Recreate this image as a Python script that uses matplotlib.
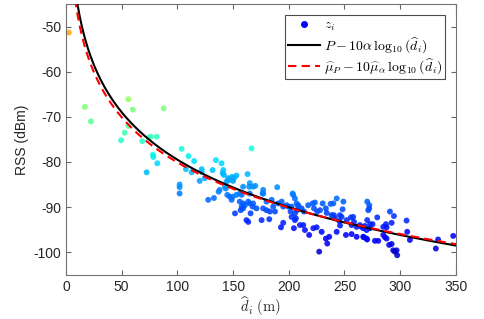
import numpy as np
import matplotlib
matplotlib.use("Agg")
import matplotlib.pyplot as plt
from matplotlib.lines import Line2D

plt.rcParams["font.family"] = ["Liberation Sans", "DejaVu Sans"]
plt.rcParams["mathtext.fontset"] = "cm"
plt.rcParams["axes.unicode_minus"] = False

# measured points: estimated distance (m) and RSS (dBm)
d_hat = [2.5, 17, 22.4, 56, 60, 87.7, 56, 52.7, 49.4, 68.5, 74.5, 76, 81.4,
         78, 78.5, 82, 72.4, 103.8, 110, 115, 102, 102, 102, 107.7, 112.8,
         127.7, 132.8, 121.8, 121.8, 120, 124.7, 131.6, 134.6, 139.7, 141.2,
         140.6, 141.8, 145.6, 146.5, 142.7, 143.5, 137, 138, 144.8, 166.6,
         149, 151, 153, 150, 148, 163, 144, 159, 165, 164.5, 168, 170, 177,
         177, 189.6, 147, 149.6, 148.7, 153, 156, 157.7, 165, 176.5, 156,
         159, 157.7, 160.6, 163.6, 165, 168, 167.5, 171, 177, 180, 186, 183,
         187.6, 190.5, 193.6, 195, 198, 199.5, 201.6, 204, 205.5, 207, 207.6,
         205.5, 208.5, 151.7, 156.8, 159, 162, 163.6, 165.7, 175.6, 182.5,
         195, 193, 204.6, 210, 202.5, 206.4, 180, 184.6, 203.4, 202.5, 205.5,
         208.5, 211.5, 213.6, 217.4, 221.4, 223.5, 222.6, 225.5, 228, 230.4,
         233.3, 234, 237.5, 240, 243, 249, 248.3, 238.4, 240.5, 241.4, 245.9,
         247.4, 245.3, 246, 252, 255.8, 257.8, 258.5, 256.4, 260.9, 263.8,
         266.8, 269.8, 270.4, 272.2, 271.3, 270.4, 268.3, 272.8, 213, 214.5,
         218.3, 222, 225, 229.5, 233.3, 234.5, 236.3, 227.3, 243, 251.3,
         256.4, 260.9, 266.8, 269.8, 272.2, 279.4, 290.8, 294.4, 292.3, 305.7,
         287.2, 287.8, 265.3, 273, 275.2, 267.4, 270.4, 277.3, 280.3, 284.8,
         286.3, 287.8, 290.1, 292.3, 293.7, 296.8, 297.3, 295.2, 306.3, 308.7,
         332, 334, 347.6, 284.8]
rss = [-51.3, -67.8, -71, -66.1, -68.4, -68.1, -72, -73.5, -75.2, -75.4,
       -74.6, -74.4, -74.4, -78.4, -78.9, -80.3, -82.3, -77.1, -78.7, -79.8,
       -85, -85.6, -87, -81.6, -82.3, -88.4, -88, -81.6, -82.2, -84.2, -83.6,
       -81.8, -79.6, -80.3, -81.8, -82.5, -82.9, -83.6, -84, -85.5, -85.9,
       -86.6, -86.2, -87.3, -77, -83.3, -83.5, -83, -84.2, -83.8, -82.7,
       -84.4, -85.5, -84.7, -85.5, -85.5, -85.3, -86.2, -87, -85.6, -87.7,
       -87.7, -88.4, -87.3, -87, -87.3, -87, -87, -88.8, -89.2, -89.9, -89.6,
       -88.8, -89.2, -89.2, -89.9, -90.3, -90.3, -90.7, -89.9, -91, -91,
       -89.2, -88.8, -89.9, -89.6, -89.9, -91, -87.3, -88.1, -89.2, -90.7,
       -91.4, -89.9, -91.4, -90.7, -90.3, -92.9, -93.3, -91.4, -92.9, -92.7,
       -93.5, -94.5, -94.7, -94, -92.2, -92.5, -88.8, -88.4, -87, -89.9,
       -92.9, -89.6, -90.3, -91, -89.6, -89.2, -89, -90.3, -91, -90.7, -89.2,
       -90.3, -91.3, -89.3, -89.2, -88.1, -88.8, -90.5, -91.8, -91.8, -92.5,
       -91.8, -92.2, -93.1, -94.1, -92.9, -92.3, -92.2, -93.3, -94, -94.4,
       -94, -94.7, -95.1, -88.8, -89.6, -90.7, -92.9, -94.2, -94.7, -94,
       -95.1, -96.2, -94.7, -94.5, -95.5, -97, -98.1, -96.6, -99.9, -95.5,
       -96.2, -96, -96.6, -96.6, -97, -90.3, -92.3, -91, -92, -93.5, -93,
       -93.8, -94.5, -94.4, -93.8, -93.8, -96.7, -97.2, -97.5, -97.5, -96.2,
       -96.7, -97, -98.4, -98.2, -99.6, -99.6, -100.7, -99.9, -95.5, -97.3,
       -99.2, -97.2, -96.4, -94.4]

# path-loss model: true and estimated parameters
P_true, alpha_true = -9.5, 3.5
mu_P, mu_alpha = -13.5, 3.33

d = np.linspace(0.5, 350, 800)
model_true = P_true - 10 * alpha_true * np.log10(d)
model_est = mu_P - 10 * mu_alpha * np.log10(d)

fig = plt.figure(figsize=(4.85, 3.19), dpi=100)
ax = fig.add_axes([0.136, 0.139, 0.804, 0.848])

ax.scatter(d_hat, rss, c=rss, cmap="jet", vmin=-105.2, vmax=-31.5,
           s=18, linewidths=0, alpha=0.88, zorder=2, clip_on=False)
ax.plot(d, model_true, color="black", lw=1.5, zorder=3)
ax.plot(d, model_est, color="red", lw=1.5, ls=(0, (4, 2.5)), zorder=4)

ax.set_xlim(0, 350)
ax.set_ylim(-105, -45)
ax.set_xticks(np.arange(0, 351, 50))
ax.set_yticks(np.arange(-100, -49, 10))
ax.tick_params(direction="in", top=True, right=True, length=3.5,
               labelsize=10, color="0.4", labelcolor="0.15")
for sp in ax.spines.values():
    sp.set_color("0.45")
    sp.set_linewidth(0.8)

ax.set_xlabel(r"$\widehat{d}_i\ (\mathrm{m})$", fontsize=10.5, color="0.15",
              labelpad=1)
ax.set_ylabel("RSS (dBm)", fontsize=10, color="0.15", labelpad=3)

handles = [Line2D([], [], ls="none", marker="o", ms=4, color="blue"),
           Line2D([], [], color="black", lw=1.5),
           Line2D([], [], color="red", lw=1.5, ls=(0, (4, 2.5)))]
labels = [r"$z_i$",
          r"$P - 10\alpha\,\log_{10}(\widehat{d}_i)$",
          r"$\widehat{\mu}_P - 10\widehat{\mu}_\alpha\,\log_{10}(\widehat{d}_i)$"]
leg = ax.legend(handles, labels, loc="upper right", fontsize=10,
                fancybox=False, framealpha=1, edgecolor="0.3",
                borderpad=0.2, labelspacing=0.12, handlelength=2.3,
                handletextpad=0.3, borderaxespad=0.8)
leg.get_frame().set_linewidth(0.8)

fig.savefig("out.png", dpi=100)
plt.close(fig)
